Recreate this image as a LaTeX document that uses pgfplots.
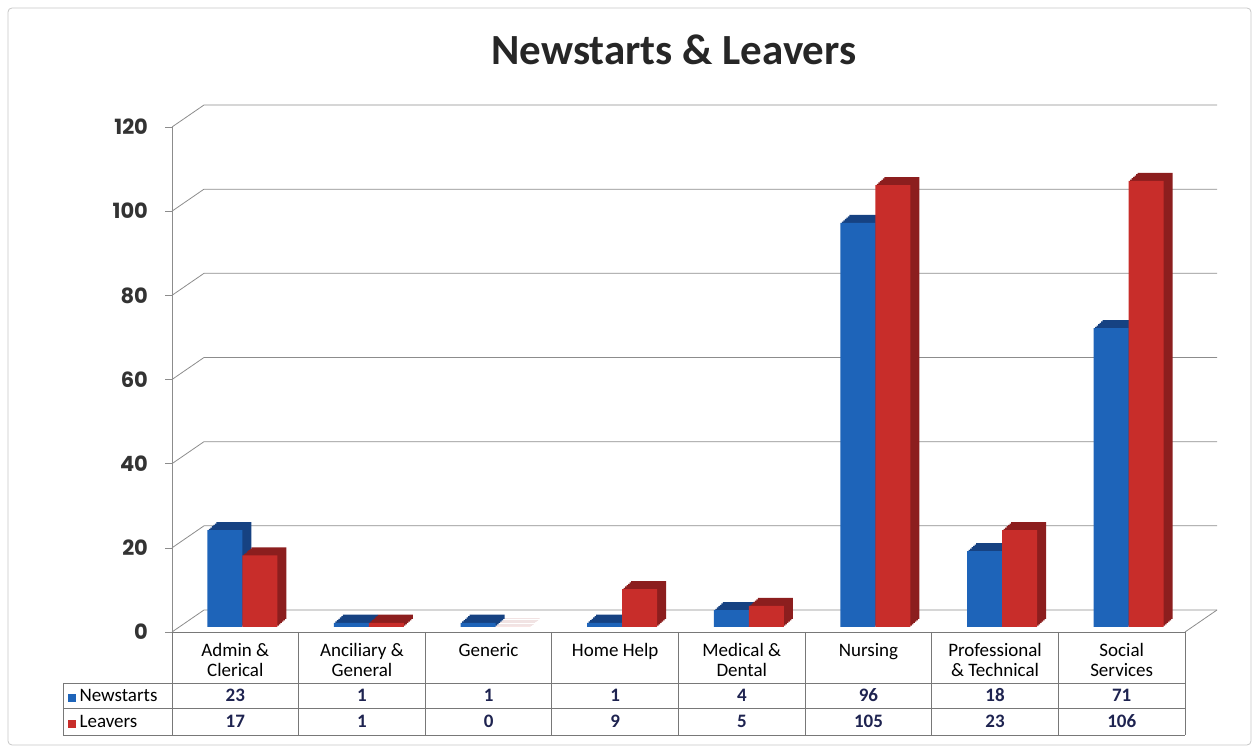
\documentclass[border=0pt]{standalone}
\usepackage{fontspec}
\setmainfont{Carlito}
\newfontfamily\tickfont{Poppins}
\usepackage{pgfplots}
\usepackage{pgfplotstable}
\pgfplotsset{compat=1.18}
\definecolor{nsblue}{RGB}{30,100,185}
\definecolor{nsblueD}{RGB}{22,66,130}
\definecolor{lvred}{RGB}{200,45,42}
\definecolor{lvredD}{RGB}{140,30,30}
\definecolor{gridgray}{RGB}{140,140,140}
\definecolor{tblgray}{RGB}{120,120,120}
\definecolor{valnavy}{RGB}{30,35,80}

\pgfplotstableread{
x new leave
0 23 17
1 1 1
2 1 0
3 1 9
4 4 5
5 96 105
6 18 23
7 71 106
}\data

\begin{document}
\begin{tikzpicture}
\path[use as bounding box] (0,0) rectangle (629pt,374pt);
\draw[gray!45, rounded corners=2pt] (4pt,1.5pt) rectangle (625.5pt,370pt);
\node[font=\bfseries\fontsize{21.5}{24}\selectfont, text=black!85] at (337pt,349pt) {Newstarts \& Leavers};

\begin{axis}[
  at={(86pt,58pt)}, anchor=south west,
  scale only axis, width=506.5pt, height=252.5pt,
  xmin=-0.5, xmax=7.5, ymin=0, ymax=120,
  clip=false,
  axis x line*=bottom,
  x axis line style={draw=none},
  axis y line*=left,
  y axis line style={gridgray, -},
  ytick={0,20,...,120},
  ytick style={gridgray},
  xtick={0,...,7},
  xtick style={draw=none},
  tick align=outside, major tick length=3.5pt,
  yticklabel style={font=\tickfont\bfseries\fontsize{10.5}{12}\selectfont, text=black!80, xshift=-5pt},
  /pgf/number format/assume math mode=true,
  xticklabels={{Admin \&\\Clerical},{Anciliary \&\\General},{Generic},{Home Help},{Medical \&\\Dental},{Nursing},{Professional\\\& Technical},{Social\\Services}},
  xticklabel style={align=center, font=\fontsize{9.5}{10}\selectfont, text=black, anchor=north, yshift=1.5pt},
]
\pgfplotsinvokeforeach{0,20,...,120}{
  \draw[gridgray] (axis cs:-0.5,#1) -- ++(16pt,11pt) -- ([shift={(16pt,11pt)}]axis cs:7.5,#1);
}
\draw[gridgray] (axis cs:7.5,0) -- ++(16pt,11pt);

% Newstarts: depth copies then front face
\pgfplotsinvokeforeach{1,...,6}{
  \addplot[ybar, bar width=17.5pt, bar shift=-5.25pt, fill=nsblueD, draw=none, xshift={#1*0.75pt}, yshift={2.5pt+#1*0.67pt}, forget plot] table[x=x,y=new]{\data};
}
\addplot[ybar, bar width=17.5pt, bar shift=-5.25pt, fill=nsblue, draw=none, yshift=2.5pt] table[x=x,y=new]{\data};
% Leavers
\pgfplotsinvokeforeach{1,...,6}{
  \addplot[ybar, bar width=17.5pt, bar shift=12.25pt, fill=lvredD, draw=none, xshift={#1*0.75pt}, yshift={2.5pt+#1*0.67pt}, forget plot] table[x=x,y=leave]{\data};
}
\addplot[ybar, bar width=17.5pt, bar shift=12.25pt, fill=lvred, draw=none, yshift=2.5pt] table[x=x,y=leave]{\data};
\end{axis}

% data table
\draw[tblgray] (86pt,58pt) -- (592.5pt,58pt);
\draw[tblgray] (31.5pt,32.5pt) -- (592.5pt,32.5pt);
\draw[tblgray] (31.5pt,20pt) -- (592.5pt,20pt);
\draw[tblgray] (31.5pt,6.5pt) -- (592.5pt,6.5pt);
\draw[tblgray] (31.5pt,32.5pt) -- (31.5pt,6.5pt);
\foreach \k in {0,...,8} {
  \draw[tblgray] ({86pt+\k*63.3125pt},58pt) -- ({86pt+\k*63.3125pt},6.5pt);
}
\node[anchor=west, font=\fontsize{9.5}{10}\selectfont, inner sep=0pt] at (34pt,26.25pt) {{\color{nsblue}\rule{4pt}{4pt}}\,Newstarts};
\node[anchor=west, font=\fontsize{9.5}{10}\selectfont, inner sep=0pt] at (34pt,13.25pt) {{\color{lvred}\rule{4pt}{4pt}}\,Leavers};
\pgfplotstableforeachcolumnelement{new}\of\data\as\cell{
  \node[font=\bfseries\fontsize{9.5}{10}\selectfont, text=valnavy] at ({117.66pt+\pgfplotstablerow*63.3125pt},26.25pt) {\cell};
}
\pgfplotstableforeachcolumnelement{leave}\of\data\as\cell{
  \node[font=\bfseries\fontsize{9.5}{10}\selectfont, text=valnavy] at ({117.66pt+\pgfplotstablerow*63.3125pt},13.25pt) {\cell};
}
\end{tikzpicture}
\end{document}
